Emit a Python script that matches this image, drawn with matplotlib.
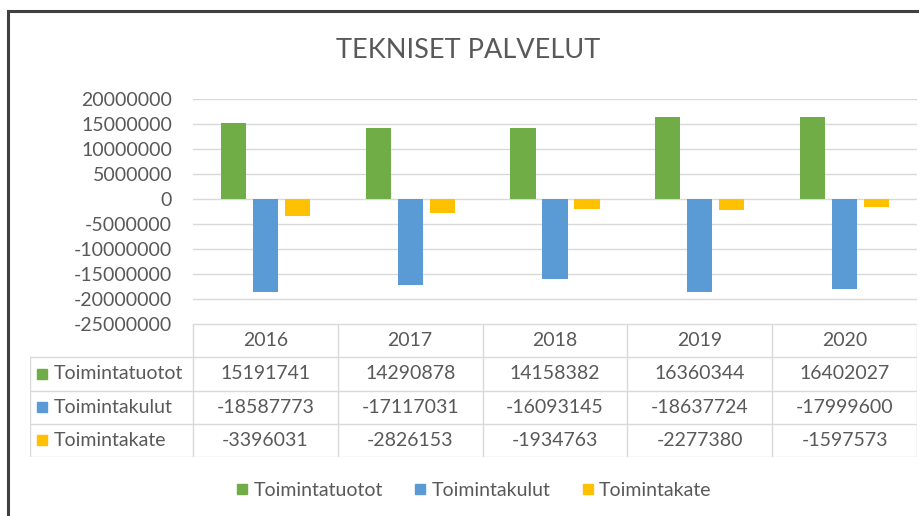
import numpy as np
import matplotlib
matplotlib.use("Agg")
import matplotlib.pyplot as plt
from matplotlib.lines import Line2D

plt.rcParams['font.family'] = ['Lato', 'DejaVu Sans']

# Talousluvut vuosittain
vuodet = ["2016", "2017", "2018", "2019", "2020"]
sarjat = ["Toimintatuotot", "Toimintakulut", "Toimintakate"]
toimintatuotot = [15191741, 14290878, 14158382, 16360344, 16402027]
toimintakulut = [-18587773, -17117031, -16093145, -18637724, -17999600]
toimintakate = [-3396031, -2826153, -1934763, -2277380, -1597573]
y_ticks = [20000000, 15000000, 10000000, 5000000, 0, -5000000,
           -10000000, -15000000, -20000000, -25000000]

arvot = [toimintatuotot, toimintakulut, toimintakate]
varit = ["#70AD47", "#5B9BD5", "#FFC000"]
harmaa = "#595959"
viiva = "#D9D9D9"
fs = 14

W, H = 919, 516
fig = plt.figure(figsize=(W / 100, H / 100), dpi=100)
fig.patch.set_facecolor("white")

# reunaviivat ylhäällä ja vasemmalla
fig.add_artist(Line2D([8 / W, 1], [1 - 11 / H, 1 - 11 / H], color="#404040", lw=2.2))
fig.add_artist(Line2D([8 / W, 8 / W], [0, 1 - 11 / H], color="#404040", lw=2.2))

fig.text(468 / W, 1 - 50 / H, "TEKNISET PALVELUT", ha="center", va="center",
         fontsize=19.5, color=harmaa)

# pylväsdiagrammi
ax = fig.add_axes([193 / W, 1 - 324 / H, 724 / W, 225 / H])
x = np.arange(len(vuodet))
leveys = 0.173
siirto = 0.221
for k, (nimi, v, c) in enumerate(zip(sarjat, arvot, varit)):
    ax.bar(x + (k - 1) * siirto, v, width=leveys, color=c, label=nimi, zorder=3)

ax.set_xlim(-0.5, len(vuodet) - 0.5)
ax.set_ylim(-25000000, 20000000)
ax.set_yticks(y_ticks)
ax.set_yticklabels([str(t) for t in y_ticks])
ax.set_xticks([])
ax.tick_params(axis="y", length=0, pad=15, labelsize=fs, labelcolor=harmaa)
ax.grid(axis="y", color=viiva, lw=1, zorder=0)
for s in ax.spines.values():
    s.set_visible(False)

# datataulukko kaavion alla
ta = fig.add_axes([30 / W, 1 - 457 / H, 887 / W, 133 / H])
vasen = -0.5 - 163 / 144.8
ta.set_xlim(vasen, len(vuodet) - 0.5)
ta.set_ylim(4, 0)
ta.axis("off")
ta.plot([-0.5, len(vuodet) - 0.5], [0, 0], color=viiva, lw=1)
for r in range(1, 5):
    ta.plot([vasen, len(vuodet) - 0.5], [r, r], color=viiva, lw=1)
ta.plot([vasen, vasen], [1, 4], color=viiva, lw=1)
for k in range(len(vuodet) + 1):
    ta.plot([k - 0.5, k - 0.5], [0, 4], color=viiva, lw=1)

for i, vuosi in enumerate(vuodet):
    ta.text(i, 0.5, vuosi, ha="center", va="center", fontsize=fs, color=harmaa)
for r, (nimi, v, c) in enumerate(zip(sarjat, arvot, varit)):
    ta.plot(vasen + 12 / 144.8, r + 1.5, marker="s", ms=7, color=c, ls="none")
    ta.text(vasen + 24 / 144.8, r + 1.5, nimi, ha="left", va="center",
            fontsize=fs, color=harmaa)
    for i, arvo in enumerate(v):
        ta.text(i, r + 1.5, str(arvo), ha="center", va="center",
                fontsize=fs, color=harmaa)

# selite
kahvat = [Line2D([], [], marker="s", ms=7, color=c, ls="none") for c in varit]
fig.legend(kahvat, sarjat, loc="center", bbox_to_anchor=(472 / W, 1 - 490 / H),
           ncol=3, frameon=False, fontsize=fs, labelcolor=harmaa,
           handletextpad=0.1, columnspacing=1.4, handlelength=1.0)

fig.savefig("out.png", dpi=100)
